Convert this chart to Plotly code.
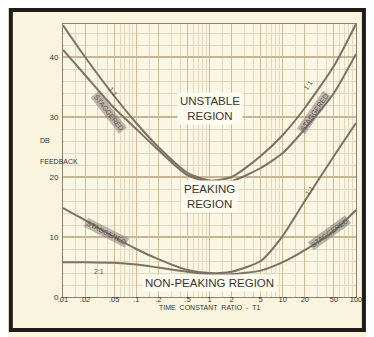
import math
import plotly.graph_objects as go

# time constant ratio points (log axis)
ratio = [0.01, 0.02, 0.05, 0.1, 0.2, 0.5, 1, 2, 5, 10, 20, 50, 100]

# db feedback
curve_a = [45.3, 40.0, 33.5, 29.0, 25.0, 20.7, 19.4, 20.0, 23.5, 27.0, 31.5, 38.5, 45.5]
curve_b = [41.2, 37.0, 31.5, 28.0, 24.5, 20.3, 19.2, 19.3, 21.5, 24.0, 28.0, 34.0, 40.5]
curve_c = [14.8, 12.8, 10.0, 8.0, 6.3, 4.5, 4.0, 4.2, 6.0, 10.2, 16.0, 23.5, 29.0]
curve_d = [5.8, 5.8, 5.7, 5.4, 4.9, 4.2, 3.8, 3.8, 4.4, 5.8, 7.8, 11.0, 14.5]

x_ticks = [0.01, 0.02, 0.05, 0.1, 0.2, 0.5, 1, 2, 5, 10, 20, 50, 100]
x_labels = [".01", ".02", ".05", ".1", ".2", ".5", "1", "2", "5", "10", "20", "50", "100"]
x_minor = [m * d for d in [0.01, 0.1, 1, 10] for m in [1.5, 3, 4, 6, 7, 8, 9]]
y_ticks = [0, 10, 20, 30, 40]

ink = "#3b352e"
curve_col = "#7d7164"
font = "Liberation Sans Narrow, Liberation Sans, Arial, sans-serif"

fig = go.Figure()

for ys in [curve_a, curve_b, curve_c, curve_d]:
    fig.add_trace(go.Scatter(
        x=ratio, y=ys, mode="lines",
        line=dict(color=curve_col, width=2, shape="spline", smoothing=0.6),
        showlegend=False, hoverinfo="skip"
    ))

# region labels, light boxes over the grid (x given as ratio)
regions = [
    (1, 31.5, "UNSTABLE<br>REGION"),
    (1, 16.7, "PEAKING<br>REGION"),
    (1, 2.3, "NON-PEAKING REGION"),
]
for x, y, t in regions:
    fig.add_annotation(
        x=math.log10(x), y=y, xref="x", yref="y", text=t, showarrow=False,
        font=dict(family=font, size=11.5, color=ink),
        bgcolor="#fdfbf0", borderpad=2
    )

# curve labels (x as ratio, y in db, text angle)
curve_labels = [
    (0.048, 34.2, "1:1", 52, None),
    (0.042, 30.7, "STAGGERED", 52, "rgba(120,105,110,0.45)"),
    (22, 35.3, "1:1", -55, None),
    (27, 30.7, "STAGGERED", -55, "rgba(120,105,110,0.45)"),
    (0.039, 10.8, "STAGGERED", 27, "rgba(120,105,110,0.45)"),
    (0.031, 4.3, "2:1", 0, None),
    (23, 17.8, "1:1", -54, None),
    (44, 10.7, "STAGGERED", -36, "rgba(110,115,110,0.5)"),
]
for x, y, t, a, bg in curve_labels:
    fig.add_annotation(
        x=math.log10(x), y=y, xref="x", yref="y", text=t, showarrow=False,
        textangle=a, font=dict(family=font, size=7, color="#5e544c"),
        bgcolor=bg
    )

# axis side texts
fig.add_annotation(x=-0.084, y=0.575, xref="paper", yref="paper", text="DB",
                   showarrow=False, font=dict(family=font, size=7, color=ink))
fig.add_annotation(x=-0.087, y=0.495, xref="paper", yref="paper", text="FEEDBACK",
                   showarrow=False, font=dict(family=font, size=7, color=ink))
fig.add_annotation(x=0.5, y=-0.058, xref="paper", yref="paper",
                   text="TIME  CONSTANT  RATIO  -  T1",
                   showarrow=False, font=dict(family=font, size=7, color=ink))

# heavy frame around the whole figure
fig.add_shape(type="rect", xref="paper", yref="paper",
              x0=-0.178, x1=1.027, y0=-0.121, y1=1.051,
              line=dict(color="#1e1b18", width=4))

fig.update_xaxes(
    type="log", range=[-2, 2],
    tickvals=x_ticks, ticktext=x_labels, ticks="",
    ticklabelstandoff=-5,
    tickfont=dict(family=font, size=7.5, color=ink),
    showgrid=True, gridcolor="#cfbb98", gridwidth=1.2,
    minor=dict(tickvals=x_minor, showgrid=True, gridcolor="#e4d8bf", gridwidth=0.8),
    showline=True, linecolor="#8a8070", linewidth=1, mirror=True,
    zeroline=False
)
fig.update_yaxes(
    range=[0, 45.5],
    tickvals=y_ticks, ticks="",
    ticklabelstandoff=2,
    tickfont=dict(family=font, size=8, color=ink),
    showgrid=True, gridcolor="#c9b592", gridwidth=1.5,
    minor=dict(dtick=2, showgrid=True, gridcolor="#e4d8bf", gridwidth=0.8),
    showline=True, linecolor="#8a8070", linewidth=1, mirror=True,
    zeroline=False
)

fig.update_layout(
    width=366, height=329,
    margin=dict(l=55, r=13, t=16, b=40),
    paper_bgcolor="#f8f4de",
    plot_bgcolor="#faf6e4",
    showlegend=False
)

fig.write_html("out.html")
